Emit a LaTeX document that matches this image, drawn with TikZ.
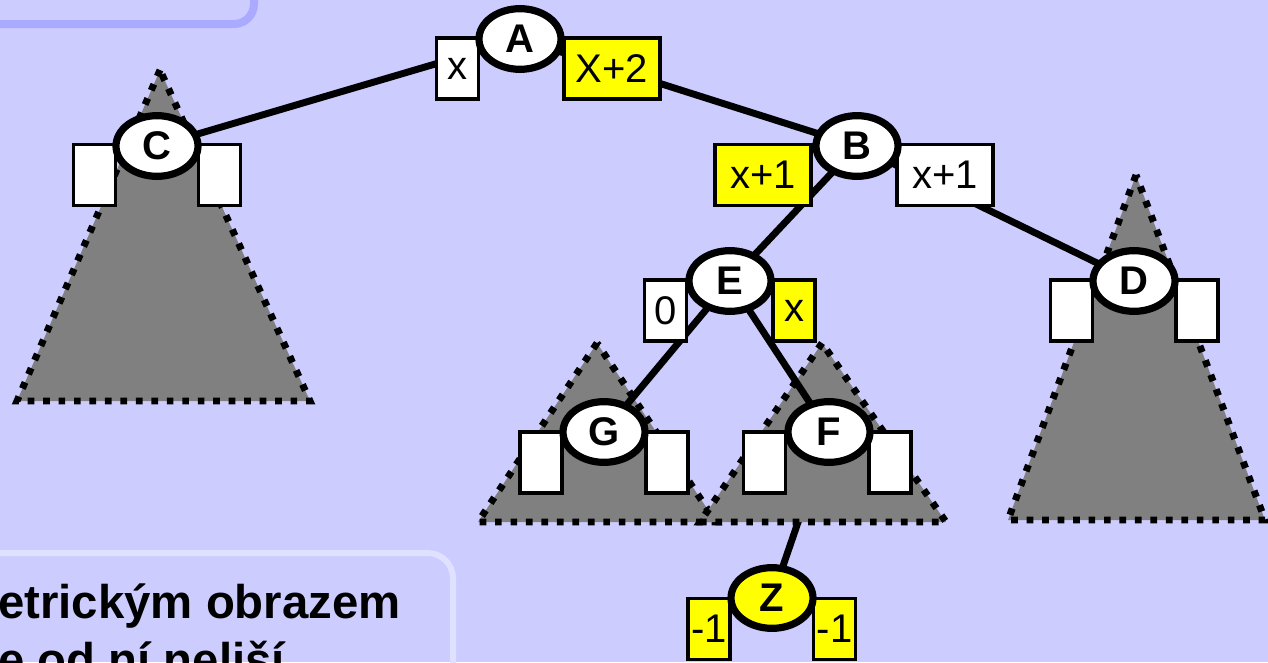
\documentclass[tikz,border=0pt]{standalone}
\usepackage{fontspec}
\setmainfont{Liberation Sans}
\usetikzlibrary{shapes.geometric}
\definecolor{bg}{HTML}{CCCCFF}
\definecolor{topframe}{HTML}{AAAAFF}
\definecolor{botframe}{HTML}{E0E0FF}
\definecolor{hl}{HTML}{FFFF00}
\definecolor{subtree}{HTML}{808080}
\pgfdeclarelayer{lzero}
\pgfdeclarelayer{lone}
\pgfdeclarelayer{ltwo}
\pgfsetlayers{lzero,lone,ltwo,main}
\tikzset{
  vert/.style={ellipse, draw, line width=5.4pt, fill=white, minimum width=61.5pt, minimum height=45.5pt, inner sep=0pt, font=\fontsize{30}{36}\selectfont\bfseries},
  lbox/.style={rectangle, draw, line width=2.6pt, fill=white, minimum height=45.75pt, inner sep=0pt, font=\fontsize{30}{36}\selectfont},
  nbox/.style={lbox, minimum width=31.5pt},
  wbox/.style={lbox, minimum width=72pt},
  yel/.style={fill=hl},
  edge/.style={line width=5.2pt},
  subtri/.style={fill=subtree, draw=black, line width=5.2pt, dash pattern=on 5pt off 6.6pt},
  frametop/.style={draw=topframe, line width=6pt, rounded corners=15pt},
  framebot/.style={draw=botframe, line width=4.5pt, rounded corners=19pt},
  bigtext/.style={anchor=base west, inner sep=0pt, font=\fontsize{35.5}{43}\selectfont\bfseries}
}
\begin{document}
\begin{tikzpicture}[x=0.75pt,y=-0.75pt]
\useasboundingbox (0,0) rectangle (1268,662);
\clip (0,0) rectangle (1268,662);
\begin{pgfonlayer}{lzero}
\fill[bg] (0,0) rectangle (1268,662);
\draw[frametop] (-60,-60) -- (254,-60) -- (254,24) -- (-60,24);
\draw[framebot] (-60,553) -- (453,553) -- (453,740);
\end{pgfonlayer}

% vertices
\node[nbox] (ax) at (457.5,68.5) {x};
\node[wbox, yel] (ay) at (612,68.5) {X+2};
\node[wbox, yel] (bx) at (763,175) {x+1};
\node[wbox] (by) at (945,175) {x+1};
\node[nbox] (ex) at (665.5,310.5) {0};
\node[nbox, yel] (ey) at (794,310.5) {x};
\node[nbox] (cx) at (94.5,175) {};
\node[nbox] (cy) at (219.5,175) {};
\node[nbox] (dx) at (1071.5,310.5) {};
\node[nbox] (dy) at (1197,310.5) {};
\node[nbox] (gx) at (541,462.5) {};
\node[nbox] (gy) at (667,462.5) {};
\node[nbox] (fx) at (764.5,462.5) {};
\node[nbox] (fy) at (890,462.5) {};
\node[nbox, yel] (zx) at (709,629) {-1};
\node[nbox, yel] (zy) at (834.5,629) {-1};

\node[vert] (A) at (520,39) {A};
\node[vert] (B) at (857,146) {B};
\node[vert] (C) at (157,146) {C};
\node[vert] (D) at (1134,281) {D};
\node[vert] (E) at (730,281) {E};
\node[vert] (G) at (604,432) {G};
\node[vert] (F) at (829,432) {F};
\node[vert, yel] (Z) at (772,598) {Z};

\begin{pgfonlayer}{lzero}
\draw[edge] (F.center) -- (Z.center);
\end{pgfonlayer}

\begin{pgfonlayer}{lone}
\draw[subtri] (160,70) -- (17,401) -- (310,401) -- cycle;
\draw[subtri] (1136,175) -- (1008,520) -- (1265,520) -- cycle;
\draw[subtri] (597,343) -- (478,522) -- (716,522) -- cycle;
\draw[subtri] (822,343) -- (700,522) -- (946,522) -- cycle;
\end{pgfonlayer}

\begin{pgfonlayer}{ltwo}
\draw[edge] (A.center) -- (C.center);
\draw[edge] (A.center) -- (B.center);
\draw[edge] (B.center) -- (E.center);
\draw[edge] (B.center) -- (D.center);
\draw[edge] (E.center) -- (G.center);
\draw[edge] (E.center) -- (F.center);
\end{pgfonlayer}

\node[bigtext] (t1) at (-2,618) {etrickým obrazem};
\node[bigtext] (t2) at (-2,676) {e od ní neliší};
\end{tikzpicture}
\end{document}
